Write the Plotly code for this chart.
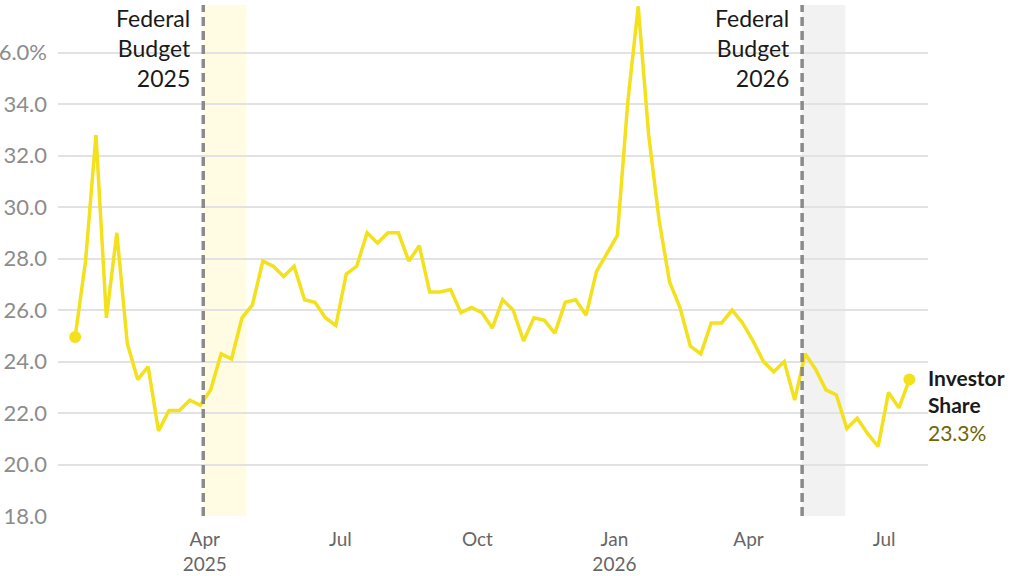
import pandas as pd
import plotly.graph_objects as go

# ---- data ----
start_date = "2025-01-04"
investor_share = [24.95, 27.9, 32.8, 25.7, 29.0, 24.7, 23.3, 23.8, 21.3, 22.1,
                  22.1, 22.5, 22.3, 22.9, 24.3, 24.1, 25.7, 26.2, 27.9, 27.7,
                  27.3, 27.7, 26.4, 26.3, 25.7, 25.4, 27.4, 27.7, 29.0, 28.6,
                  29.0, 29.0, 27.9, 28.5, 26.7, 26.7, 26.8, 25.9, 26.1, 25.9,
                  25.3, 26.4, 26.0, 24.8, 25.7, 25.6, 25.1, 26.3, 26.4, 25.8,
                  27.5, 28.2, 28.9, 34.1, 37.8, 32.8, 29.5, 27.1, 26.1, 24.6,
                  24.3, 25.5, 25.5, 26.0, 25.5, 24.8, 24.0, 23.6, 24.0, 22.5,
                  24.3, 23.7, 22.9, 22.7, 21.4, 21.8, 21.2, 20.7, 22.8, 22.2,
                  23.3]
dates = pd.date_range(start_date, periods=len(investor_share), freq="7D")

budget_dates = ["2025-03-31", "2026-05-07"]
budget_band_ends = ["2025-04-29", "2026-06-05"]
budget_labels = ["Federal<br>Budget<br>2025", "Federal<br>Budget<br>2026"]
budget_band_colors = ["#fffce3", "#f2f2f2"]

y_tickvals = [18, 20, 22, 24, 26, 28, 30, 32, 34, 36]
y_ticktext = ["18.0", "20.0", "22.0", "24.0", "26.0", "28.0", "30.0", "32.0", "34.0", "36.0%"]
x_tickvals = ["2025-04-01", "2025-07-01", "2025-10-01", "2026-01-01", "2026-04-01", "2026-07-01"]
x_ticktext = ["Apr<br>2025", "Jul", "Oct", "Jan<br>2026", "Apr", "Jul"]

LINE = "#f2e11c"
FONT = "Lato, 'Open Sans', sans-serif"

fig = go.Figure()
fig.add_trace(go.Scatter(x=dates, y=investor_share, mode="lines",
                         line=dict(color=LINE, width=3.5), hoverinfo="skip",
                         showlegend=False))
fig.add_trace(go.Scatter(x=[dates[0], dates[-1]], y=[investor_share[0], investor_share[-1]],
                         mode="markers", marker=dict(color=LINE, size=12),
                         hoverinfo="skip", showlegend=False))

for d, e, c, lab in zip(budget_dates, budget_band_ends, budget_band_colors, budget_labels):
    fig.add_shape(type="rect", xref="x", yref="paper", x0=d, x1=e, y0=0, y1=1,
                  fillcolor=c, line=dict(width=0), layer="below")
    fig.add_shape(type="line", xref="x", yref="paper", x0=d, x1=d, y0=0, y1=1,
                  line=dict(color="#858585", width=3.5, dash="9px,5px"), layer="above",
                  opacity=0.95)
    fig.add_annotation(xref="x", yref="paper", x=d, y=1.0, xanchor="right", yanchor="top",
                       xshift=-10, yshift=3, text=lab, showarrow=False, align="right",
                       font=dict(family=FONT, size=23, color="#1a1a1a"))

fig.add_annotation(xref="paper", yref="y", x=1.0, y=investor_share[-1], xanchor="left",
                   yanchor="top", yshift=17, xshift=-2, align="left", showarrow=False,
                   text="<b>Investor</b><br><b>Share</b><br><span style='color:#6e6600'>23.3%</span>",
                   font=dict(family=FONT, size=21, color="#1a1a1a"))

fig.update_layout(
    width=1023, height=576,
    margin=dict(l=58, r=95, t=5, b=60, autoexpand=False),
    paper_bgcolor="white", plot_bgcolor="white",
    font=dict(family=FONT),
    xaxis=dict(range=["2024-12-23 12:00", "2026-07-30 12:00"], tickvals=x_tickvals,
               ticktext=x_ticktext, showgrid=False, zeroline=False, showline=False,
               ticks="", ticklabelstandoff=10, automargin=False,
               tickfont=dict(family=FONT, size=19, color="#666666")),
    yaxis=dict(range=[18, 37.85], tickvals=y_tickvals, ticktext=y_ticktext,
               showgrid=True, gridcolor="#e2e2e2", gridwidth=1.5, zeroline=False,
               showline=False, ticks="", ticklabelstandoff=10, automargin=False,
               tickfont=dict(family=FONT, size=22, color="#8c8c8c")),
)

fig.write_html("out.html")
